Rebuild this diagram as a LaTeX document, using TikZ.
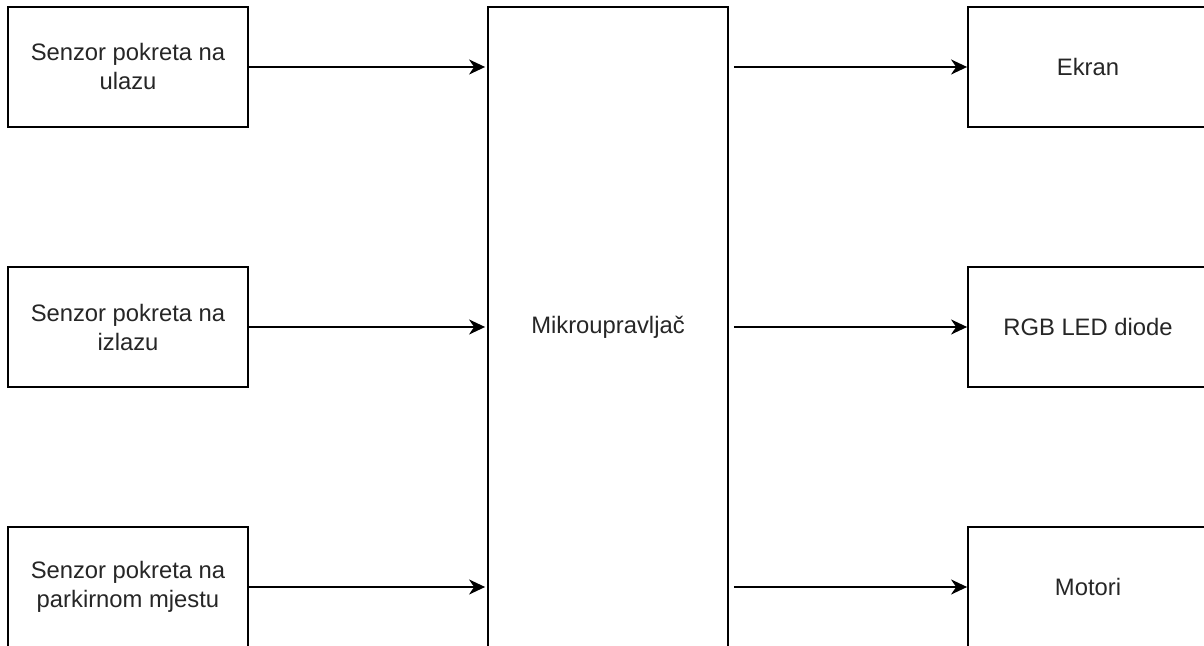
\documentclass[tikz,border=0pt]{standalone}
\usepackage{fontspec}
\setmainfont{Liberation Sans}
\usetikzlibrary{arrows.meta}
\begin{document}
\begin{tikzpicture}[x=1pt,y=1pt,
  box/.style={draw=black, fill=white, line width=1.8pt, minimum width=240pt, minimum height=120pt,
    inner sep=0pt, align=center, font=\fontsize{23.8}{29}\selectfont, text=black!85},
  arr/.style={line width=1.8pt, -{Stealth[length=16pt,width=15pt,inset=5pt]}}]
\useasboundingbox (0,0) rectangle (1204,645);
\fill[white] (0,0) rectangle (1204,645);
\node[box] (l1) at (128,578) {Senzor pokreta na\\ulazu};
\node[box] (l2) at (128,318) {Senzor pokreta na\\izlazu};
\node[box] (l3) at (128,58) {Senzor pokreta na\\parkirnom mjestu};
\node[box, minimum height=640pt] (mc) at (608,318) {Mikroupravljač};
\node[box] (r1) at (1088,578) {Ekran};
\node[box] (r2) at (1088,318) {RGB LED diode};
\node[box] (r3) at (1088,58) {Motori};
\foreach \n in {l1,l2,l3}{
  \draw[arr, shorten >=2pt] (\n.east) -- (\n.east -| mc.west);
}
\foreach \n in {r1,r2,r3}{
  \draw[arr, shorten <=5pt] (mc.east |- \n.west) -- (\n.west);
}
\end{tikzpicture}
\end{document}
